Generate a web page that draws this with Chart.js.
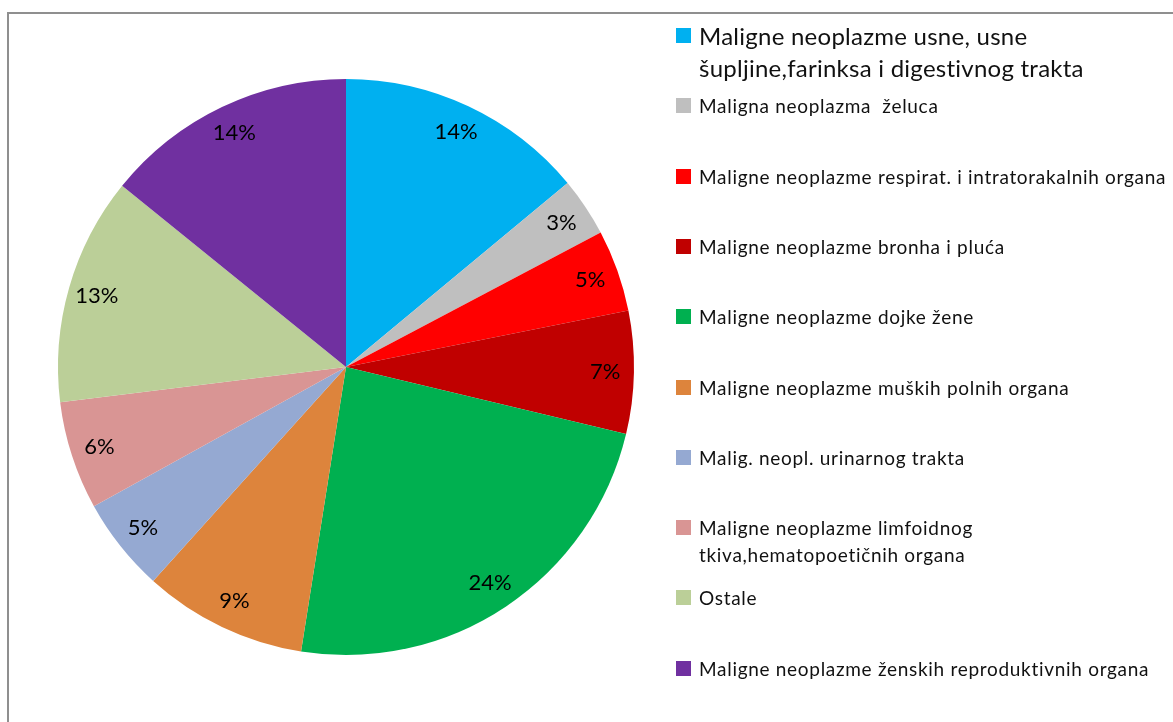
<!DOCTYPE html>
<html>
<head>
<meta charset="utf-8">
<script src="https://cdn.jsdelivr.net/npm/chart.js@4.4.0/dist/chart.umd.min.js"></script>
<style>
  body { margin: 0; background: #fff; font-family: Lato, sans-serif; }
  #wrap { position: relative; width: 1173px; height: 722px; overflow: hidden; }
  #frame { position: absolute; left: 7px; top: 12px; width: 1200px; height: 800px;
           border-left: 2px solid #8f8f8f; border-top: 2px solid #8f8f8f; }
  #myChart { position: absolute; left: 0; top: 0; }
  .item { position: absolute; left: 676px; display: flex; align-items: flex-start; white-space: pre; color: #111; }
  .box { width: 15px; height: 15px; flex: none; margin-right: 8px; }
</style>
</head>
<body>
<div id="wrap">
  <div id="frame"></div>
  <canvas id="myChart" width="1173" height="722"></canvas>
  <div id="legend"></div>
</div>
<script>
const categories = [
    ["Maligne neoplazme usne, usne", "šupljine,farinksa i digestivnog trakta"],
    ["Maligna neoplazma  želuca"],
    ["Maligne neoplazme respirat. i intratorakalnih organa"],
    ["Maligne neoplazme bronha i pluća"],
    ["Maligne neoplazme dojke žene"],
    ["Maligne neoplazme muških polnih organa"],
    ["Malig. neopl. urinarnog trakta"],
    ["Maligne neoplazme limfoidnog", "tkiva,hematopoetičnih organa"],
    ["Ostale"],
    ["Maligne neoplazme ženskih reproduktivnih organa"]
]
const values = [14.0, 3.3, 4.6, 6.9, 23.8, 9.2, 5.3, 6.1, 12.8, 14.2]
const colors = ['#00b0f0', '#bfbfbf', '#ff0000', '#c00000', '#00b050', '#dd843c', '#95a9d2', '#d99594', '#bbcf98', '#7030a0']

const total = values.reduce((a, b) => a + b, 0)

// percentage labels inside the slices
const pctLabels = {
    id: 'pctLabels',
    afterDatasetsDraw(chart) {
        const ctx = chart.ctx
        const meta = chart.getDatasetMeta(0)
        ctx.save()
        ctx.font = '22px Lato'
        ctx.fillStyle = '#000'
        ctx.textAlign = 'center'
        ctx.textBaseline = 'middle'
        meta.data.forEach(function (arc, i) {
            const p = arc.getProps(['x', 'y', 'startAngle', 'endAngle', 'outerRadius'], true)
            const mid = (p.startAngle + p.endAngle) / 2
            const r = p.outerRadius * 0.9
            ctx.fillText(Math.round(values[i] / total * 100) + '%', p.x + Math.cos(mid) * r, p.y + Math.sin(mid) * r)
        })
        ctx.restore()
    }
}

const ctx = document.getElementById('myChart').getContext('2d')

var pieChart = new Chart(ctx, {
    type: 'pie',
    data: {
        labels: categories,
        datasets: [{
            data: values,
            backgroundColor: colors,
            borderWidth: 0
        }]
    },
    options: {
        responsive: false,
        animation: false,
        layout: { padding: { left: 58, right: 539, top: 79, bottom: 67 } },
        plugins: {
            legend: { display: false },
            tooltip: { enabled: false }
        }
    },
    plugins: [pctLabels]
})

// legend on the right
const legend = document.getElementById('legend')
categories.forEach(function (lines, i) {
    const big = i === 0
    const lh = big ? 32 : 27
    const rowTop = 28 + i * 70.3
    const item = document.createElement('div')
    item.className = 'item'
    item.style.top = (rowTop - (lh - 15) / 2) + 'px'
    const box = document.createElement('div')
    box.className = 'box'
    box.style.background = colors[i]
    box.style.marginTop = ((lh - 15) / 2) + 'px'
    const txt = document.createElement('div')
    txt.style.fontSize = big ? '24px' : '19px'
    txt.style.letterSpacing = big ? '0.25px' : '0.7px'
    txt.style.lineHeight = lh + 'px'
    txt.textContent = lines.join('\n')
    item.appendChild(box)
    item.appendChild(txt)
    legend.appendChild(item)
})
</script>
</body>
</html>
